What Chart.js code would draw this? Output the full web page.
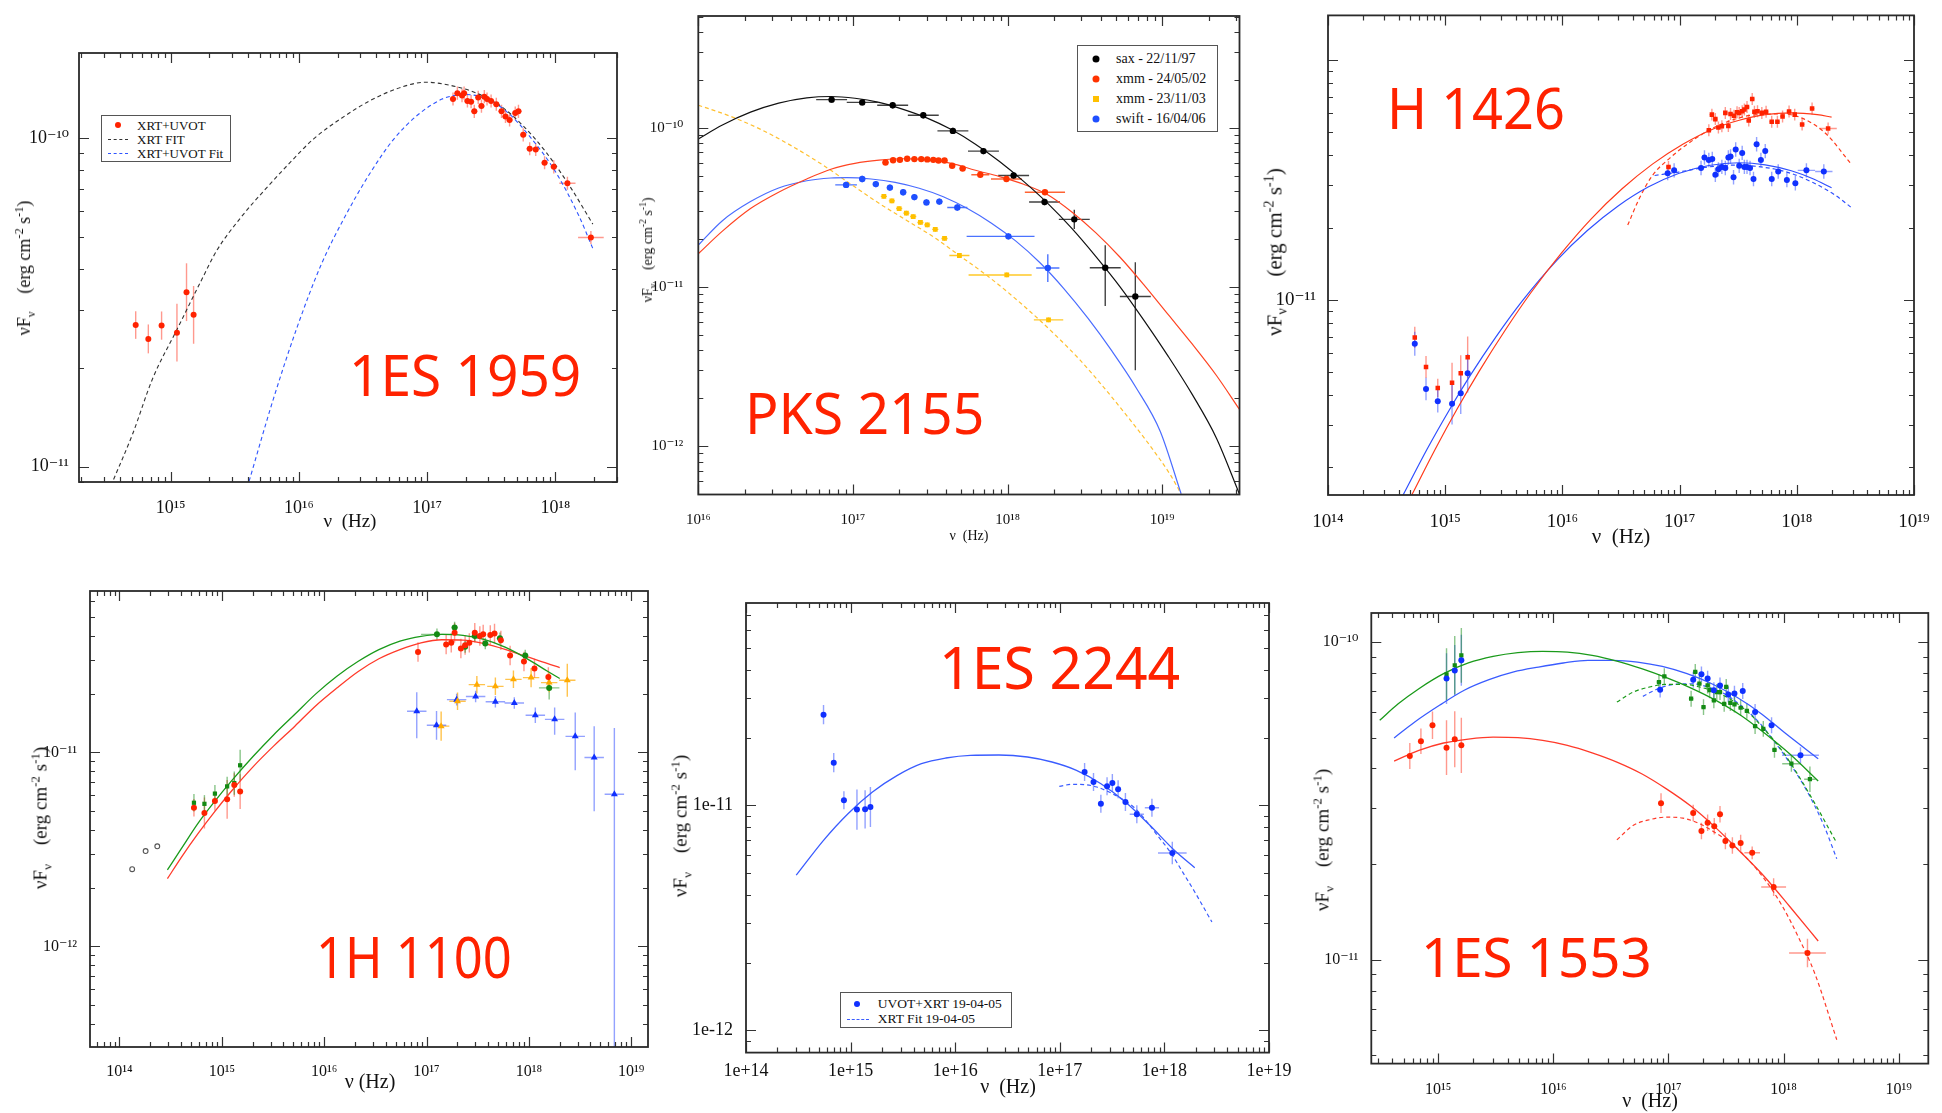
<!DOCTYPE html>
<html><head><meta charset="utf-8"><title>Blazar SEDs</title>
<script src="https://cdn.jsdelivr.net/npm/chart.js"></script>
<style>
html,body{margin:0;padding:0;background:#fff}
body{position:relative;width:1942px;height:1113px;overflow:hidden}
canvas.pane{position:absolute;left:0;top:0}
.ov{position:absolute;white-space:nowrap;font-family:'Liberation Serif','DejaVu Serif',serif;color:#111;line-height:1;z-index:5}
.ctr{transform:translate(-50%,-50%)}
.rot{transform:translate(-50%,-50%) rotate(-90deg)}
.big{position:absolute;white-space:nowrap;font-family:'Noto Sans',sans-serif;color:#ff2200;line-height:1;transform-origin:0 0;z-index:6}
.leg{position:absolute;border:1.5px solid #555;background:#fff;z-index:6;box-sizing:border-box}
.leg .row{position:absolute;left:0;right:0;height:0}
.leg .txt{position:absolute;top:0;transform:translateY(-50%);font-family:'Liberation Serif',serif;color:#111;white-space:nowrap;line-height:1}
.leg .dot{position:absolute;top:0;border-radius:50%;transform:translate(-50%,-50%)}
.leg .sq{position:absolute;top:0;transform:translate(-50%,-50%)}
.leg .dash{position:absolute;top:0;border-top-style:dashed;border-top-width:1.5px;height:0}
sub,sup{font-size:0.68em;line-height:0}
</style></head>
<body>
<canvas id="c1" class="pane" width="1942" height="1113"></canvas>
<canvas id="c2" class="pane" width="1942" height="1113"></canvas>
<canvas id="c3" class="pane" width="1942" height="1113"></canvas>
<canvas id="c4" class="pane" width="1942" height="1113"></canvas>
<canvas id="c5" class="pane" width="1942" height="1113"></canvas>
<canvas id="c6" class="pane" width="1942" height="1113"></canvas>

<!-- axis titles -->
<div class="ov ctr" style="left:350px;top:520px;font-size:19px">ν&nbsp;&nbsp;(Hz)</div>
<div class="ov rot" style="left:24px;top:268px;font-size:18px">νF<sub>ν</sub>&nbsp;&nbsp;&nbsp;&nbsp;(erg cm<sup>-2</sup>&nbsp;s<sup>-1</sup>)</div>
<div class="ov ctr" style="left:969px;top:536px;font-size:14px">ν&nbsp;&nbsp;(Hz)</div>
<div class="ov rot" style="left:648px;top:250px;font-size:14px">νF<sub>ν</sub>&nbsp;&nbsp;&nbsp;&nbsp;(erg cm<sup>-2</sup>&nbsp;s<sup>-1</sup>)</div>
<div class="ov ctr" style="left:1621px;top:536px;font-size:21px">ν&nbsp;&nbsp;(Hz)</div>
<div class="ov rot" style="left:1275px;top:252px;font-size:21px">νF<sub>ν</sub>&nbsp;&nbsp;&nbsp;&nbsp;&nbsp;&nbsp;(erg cm<sup>-2</sup>&nbsp;s<sup>-1</sup>)</div>
<div class="ov ctr" style="left:370px;top:1081px;font-size:20px">ν (Hz)</div>
<div class="ov rot" style="left:40px;top:818px;font-size:19px">νF<sub>ν</sub>&nbsp;&nbsp;&nbsp;&nbsp;(erg cm<sup>-2</sup>&nbsp;s<sup>-1</sup>)</div>
<div class="ov ctr" style="left:1008px;top:1086px;font-size:20px">ν&nbsp;&nbsp;(Hz)</div>
<div class="ov rot" style="left:680px;top:826px;font-size:19px">νF<sub>ν</sub>&nbsp;&nbsp;&nbsp;&nbsp;(erg cm<sup>-2</sup>&nbsp;s<sup>-1</sup>)</div>
<div class="ov ctr" style="left:1650px;top:1100px;font-size:20px">ν&nbsp;&nbsp;(Hz)</div>
<div class="ov rot" style="left:1322px;top:840px;font-size:19px">νF<sub>ν</sub>&nbsp;&nbsp;&nbsp;&nbsp;(erg cm<sup>-2</sup>&nbsp;s<sup>-1</sup>)</div>

<!-- source names -->
<div id="t1" class="big">1ES 1959</div>
<div id="t2" class="big">PKS 2155</div>
<div id="t3" class="big">H 1426</div>
<div id="t4" class="big">1H 1100</div>
<div id="t5" class="big">1ES 2244</div>
<div id="t6" class="big">1ES 1553</div>

<!-- legends -->
<div class="leg" style="left:101px;top:115px;width:130px;height:47px">
  <div class="row" style="top:9px"><span class="dot" style="left:15.5px;width:6px;height:6px;background:#ff2200"></span><span class="txt" style="left:35px;font-size:13px">XRT+UVOT</span></div>
  <div class="row" style="top:23.3px"><span class="dash" style="left:5.5px;width:20px;border-top-color:#333"></span><span class="txt" style="left:35px;font-size:13px">XRT FIT</span></div>
  <div class="row" style="top:37.2px"><span class="dash" style="left:5.5px;width:20px;border-top-color:#2f55ff"></span><span class="txt" style="left:35px;font-size:13px">XRT+UVOT Fit</span></div>
</div>
<div class="leg" style="left:1077px;top:45px;width:141px;height:87px">
  <div class="row" style="top:13.3px"><span class="dot" style="left:18px;width:7px;height:7px;background:#000"></span><span class="txt" style="left:38px;font-size:14px">sax - 22/11/97</span></div>
  <div class="row" style="top:32.7px"><span class="dot" style="left:18px;width:7px;height:7px;background:#ff3300"></span><span class="txt" style="left:38px;font-size:14px">xmm - 24/05/02</span></div>
  <div class="row" style="top:52.7px"><span class="sq" style="left:18px;width:6px;height:6px;background:#ffc000"></span><span class="txt" style="left:38px;font-size:14px">xmm - 23/11/03</span></div>
  <div class="row" style="top:72.7px"><span class="dot" style="left:18px;width:7px;height:7px;background:#1f4fff"></span><span class="txt" style="left:38px;font-size:14px">swift - 16/04/06</span></div>
</div>
<div class="leg" style="left:840px;top:992px;width:172px;height:36px">
  <div class="row" style="top:10.5px"><span class="dot" style="left:16.3px;width:6px;height:6px;background:#1030ff"></span><span class="txt" style="left:36.8px;font-size:13.5px">UVOT+XRT 19-04-05</span></div>
  <div class="row" style="top:25.5px"><span class="dash" style="left:6px;width:22px;border-top-color:#3a5cff"></span><span class="txt" style="left:36.8px;font-size:13.5px">XRT Fit 19-04-05</span></div>
</div>

<script>
// ======================= DATA =======================
// ---- Panel 1 : 1ES 1959
const p1XTicks = [1e15, 1e16, 1e17, 1e18];
const p1XLabels = ['10¹⁵', '10¹⁶', '10¹⁷', '10¹⁸'];
const p1YTicks = [1e-11, 1e-10];
const p1YLabels = ['10⁻¹¹', '10⁻¹⁰'];
const p1OptX = [5.34e14, 6.7e14, 8.5e14, 1.12e15, 1.33e15, 1.51e15];
const p1OptY = [2.70e-11, 2.45e-11, 2.69e-11, 2.56e-11, 3.40e-11, 2.90e-11];
const p1OptEy = [0.042, 0.044, 0.043, 0.088, 0.088, 0.088];
const p1XrtX = [1.59e17,1.72e17,1.87e17,1.94e17,2.06e17,2.20e17,2.33e17,2.50e17,2.65e17,2.79e17,2.93e17,3.15e17,3.46e17,3.80e17,4.08e17,4.39e17,4.86e17,5.15e17,5.61e17,6.30e17,7.02e17,8.23e17,9.71e17,1.24e18,1.89e18];
const p1XrtY = [1.318e-10,1.373e-10,1.35e-10,1.373e-10,1.30e-10,1.294e-10,1.209e-10,1.333e-10,1.254e-10,1.34e-10,1.318e-10,1.30e-10,1.27e-10,1.209e-10,1.166e-10,1.138e-10,1.194e-10,1.209e-10,1.025e-10,9.30e-11,9.25e-11,8.43e-11,8.19e-11,7.30e-11,4.99e-11];
const p1XrtEx = [0.025,0.025,0.025,0.025,0.025,0.025,0.025,0.025,0.025,0.025,0.025,0.025,0.025,0.025,0.025,0.025,0.025,0.025,0.025,0.025,0.025,0.025,0.025,0.063,0.1];
const p1FitX = [3.59e14,5.04e14,7.23e14,1.114e15,1.718e15,2.294e15,3.54e15,5.455e15,8.41e15,1.297e16,2.149e16,3.562e16,6.346e16,9.78e16,1.509e17,2.327e17,3.587e17,5.534e17,8.53e17,1.315e18,1.957e18];
const p1FitY = [9.14e-12,1.254e-11,1.853e-11,2.605e-11,3.664e-11,4.56e-11,5.75e-11,6.99e-11,8.39e-11,9.95e-11,1.152e-10,1.301e-10,1.434e-10,1.483e-10,1.451e-10,1.382e-10,1.270e-10,1.097e-10,9.03e-11,7.08e-11,5.48e-11];
const p1Fit2X = [4.09e15,6.30e15,9.72e15,1.498e16,2.31e16,3.562e16,5.494e16,8.47e16,1.306e17,1.622e17,2.014e17,2.689e17,4.146e17,6.39e17,9.86e17,1.52e18,1.957e18];
const p1Fit2Y = [9.03e-12,1.6e-11,2.67e-11,4.14e-11,5.82e-11,7.80e-11,9.95e-11,1.18e-10,1.317e-10,1.35e-10,1.36e-10,1.333e-10,1.209e-10,1.007e-10,7.99e-11,5.82e-11,4.62e-11];

// ---- Panel 2 : PKS 2155
const p2XTicks = [1e16, 1e17, 1e18, 1e19];
const p2XLabels = ['10¹⁶', '10¹⁷', '10¹⁸', '10¹⁹'];
const p2YTicks = [1e-12, 1e-11, 1e-10];
const p2YLabels = ['10⁻¹²', '10⁻¹¹', '10⁻¹⁰'];
const p2SaxX = [7.28e16,1.148e17,1.807e17,2.85e17,4.43e17,6.98e17,1.094e18,1.734e18,2.70e18,4.28e18,6.70e18];
const p2SaxY = [1.503e-10,1.444e-10,1.387e-10,1.199e-10,9.56e-11,7.14e-11,5.02e-11,3.42e-11,2.66e-11,1.322e-11,8.71e-12];
const p2SaxEy = [0.02,0.02,0.02,0.02,0.02,0.02,0.02,0.02,0.06,[0.24,0.141],[0.463,0.215]];
const p2Xmm02X = [1.624e17,1.818e17,2.013e17,2.242e17,2.496e17,2.765e17,3.024e17,3.307e17,3.575e17,3.91e17,4.38e17,5.12e17,6.66e17,9.83e17,1.744e18];
const p2Xmm02Y = [6.05e-11,6.26e-11,6.29e-11,6.39e-11,6.36e-11,6.36e-11,6.33e-11,6.29e-11,6.23e-11,6.23e-11,5.78e-11,5.55e-11,5.07e-11,4.77e-11,3.94e-11];
const p2Xmm02Ex = [0.02,0.02,0.02,0.02,0.02,0.02,0.02,0.02,0.02,0.02,0.02,0.02,0.058,0.1,0.13];
const p2Xmm03X = [1.585e17,1.786e17,1.99e17,2.216e17,2.453e17,2.731e17,3.024e17,3.407e17,3.91e17,4.88e17,9.88e17,1.84e18];
const p2Xmm03Y = [3.71e-11,3.475e-11,3.11e-11,2.913e-11,2.77e-11,2.543e-11,2.456e-11,2.30e-11,2.018e-11,1.577e-11,1.19e-11,6.21e-12];
const p2Xmm03Ex = [0.02,0.02,0.02,0.02,0.02,0.02,0.02,0.02,0.02,0.065,[0.247,0.161],0.095];
const p2SwiftX = [9.03e16,1.148e17,1.406e17,1.734e17,2.112e17,2.496e17,2.988e17,3.62e17,4.73e17,1.012e18,1.82e18];
const p2SwiftY = [4.38e-11,4.77e-11,4.43e-11,4.21e-11,3.94e-11,3.67e-11,3.40e-11,3.44e-11,3.16e-11,2.08e-11,1.315e-11];
const p2SwiftEx = [0.07,0.02,0.02,0.02,0.02,0.02,0.02,0.02,0.065,[0.27,0.169],0.075];
const p2SwiftEy = [0.02,0.02,0.02,0.02,0.02,0.02,0.02,0.02,0.02,0.02,0.087];
const p2FitSaxX = [1e16,1.432e16,2.176e16,3.308e16,5.027e16,7.197e16,1.03e17,1.475e17,2.112e17,3.024e17,4.33e17,6.198e17,8.873e17,1.27e18,1.818e18,2.603e18,3.727e18,5.337e18,7.64e18,1.094e19,1.566e19,2.242e19,3.153e19];
const p2FitSaxY = [8.51e-11,1.041e-10,1.254e-10,1.43e-10,1.542e-10,1.573e-10,1.534e-10,1.444e-10,1.306e-10,1.151e-10,9.75e-11,7.89e-11,6.14e-11,4.61e-11,3.355e-11,2.335e-11,1.553e-11,1.003e-11,6.15e-12,3.664e-12,2.106e-12,1.123e-12,5.02e-13];
const p2FitXmm02Y = [1.618e-11,2.243e-11,3.11e-11,3.94e-11,4.77e-11,5.49e-11,5.98e-11,6.26e-11,6.39e-11,6.29e-11,5.98e-11,5.41e-11,4.94e-11,4.42e-11,3.80e-11,2.96e-11,2.187e-11,1.538e-11,1.028e-11,6.70e-12,4.37e-12,2.78e-12,1.705e-12];
const p2FitSwiftX = [1e16,1.432e16,2.176e16,3.308e16,5.027e16,7.197e16,9.14e16,1.309e17,1.874e17,2.683e17,3.84e17,5.50e17,7.87e17,1.127e18,1.614e18,2.31e18,3.307e18,4.735e18,6.78e18,9.70e18,1.325e19];
const p2FitSwiftY = [1.834e-11,2.61e-11,3.44e-11,4.19e-11,4.65e-11,4.84e-11,4.87e-11,4.77e-11,4.54e-11,4.17e-11,3.69e-11,3.11e-11,2.518e-11,1.949e-11,1.426e-11,9.78e-12,6.37e-12,3.95e-12,2.33e-12,1.242e-12,5.02e-13];
const p2FitXmm03X = [1e16,1.614e16,2.603e16,4.202e16,6.386e16,9.70e16,1.475e17,2.242e17,3.407e17,4.88e17,6.986e17,1.0e18,1.432e18,2.05e18,2.935e18,4.202e18,6.016e18,8.61e18,1.127e19,1.325e19];
const p2FitXmm03Y = [1.387e-10,1.181e-10,9.65e-11,7.50e-11,5.84e-11,4.42e-11,3.355e-11,2.61e-11,2.028e-11,1.577e-11,1.226e-11,9.30e-12,6.87e-12,4.96e-12,3.48e-12,2.33e-12,1.518e-12,9.65e-13,6.62e-13,5.02e-13];

// ---- Panel 3 : H 1426
const p3XTicks = [1e14, 1e15, 1e16, 1e17, 1e18, 1e19];
const p3XLabels = ['10¹⁴', '10¹⁵', '10¹⁶', '10¹⁷', '10¹⁸', '10¹⁹'];
const p3YTicks = [1e-11];
const p3YLabels = ['10⁻¹¹'];
const p3OptX = [5.50e14, 6.86e14, 8.64e14, 1.144e15, 1.357e15, 1.555e15];
const p3OptRedY = [6.97e-12, 5.25e-12, 4.29e-12, 4.51e-12, 4.94e-12, 5.76e-12];
const p3OptRedEy = [0.044, 0.046, 0.038, 0.083, 0.075, 0.087];
const p3OptBlueY = [6.56e-12, 4.25e-12, 3.78e-12, 3.69e-12, 4.08e-12, 4.94e-12];
const p3OptBlueEy = [0.05, 0.047, 0.047, 0.087, 0.087, 0.08];
const p3RedX = [8.04e16,1.776e17,1.886e17,2.018e17,2.143e17,2.294e17,2.455e17,2.606e17,2.72e17,2.91e17,3.09e17,3.225e17,3.42e17,3.57e17,3.76e17,3.89e17,4.165e17,4.35e17,4.62e17,5.03e17,5.47e17,6.11e17,6.83e17,7.56e17,8.59e17,9.60e17,1.11e18,1.35e18,1.85e18];
const p3RedY = [3.584e-11,5.09e-11,5.92e-11,5.67e-11,5.23e-11,5.30e-11,6.02e-11,5.31e-11,5.96e-11,5.86e-11,6.06e-11,6.02e-11,6.12e-11,6.22e-11,6.37e-11,5.59e-11,6.88e-11,6.08e-11,6.12e-11,6.02e-11,6.08e-11,5.53e-11,5.53e-11,5.82e-11,6.10e-11,5.92e-11,5.39e-11,6.28e-11,5.18e-11];
const p3RedEx = [0.02,0.02,0.02,0.02,0.02,0.02,0.02,0.02,0.02,0.02,0.02,0.02,0.02,0.02,0.02,0.02,0.02,0.02,0.02,0.02,0.02,0.02,0.02,0.02,0.02,0.02,0.02,0.02,0.074];
const p3BlueX = [7.91e16,8.98e16,1.524e17,1.63e17,1.776e17,1.90e17,2.018e17,2.143e17,2.294e17,2.455e17,2.606e17,2.72e17,2.885e17,3.01e17,3.225e17,3.42e17,3.57e17,3.76e17,3.99e17,4.27e17,4.54e17,4.94e17,5.38e17,6.11e17,6.94e17,8.23e17,9.72e17,1.208e18,1.70e18];
const p3BlueY = [3.375e-11,3.467e-11,3.548e-11,3.924e-11,3.83e-11,3.87e-11,3.32e-11,3.50e-11,3.584e-11,3.548e-11,3.924e-11,3.96e-11,3.244e-11,4.236e-11,3.62e-11,4.10e-11,3.584e-11,3.584e-11,3.548e-11,3.19e-11,4.455e-11,3.83e-11,4.17e-11,3.19e-11,3.43e-11,3.16e-11,3.063e-11,3.467e-11,3.43e-11];
const p3BlueEx = [0.02,0.02,0.02,0.02,0.02,0.02,0.02,0.02,0.02,0.02,0.02,0.02,0.02,0.02,0.02,0.02,0.02,0.02,0.02,0.02,0.02,0.02,0.02,0.02,0.02,0.02,0.02,0.074,0.074];
const p3FitRedX = [5.18e14,8.28e14,1.267e15,1.941e15,3.236e15,5.40e15,9.80e15,1.779e16,3.231e16,5.866e16,1.065e17,1.934e17,3.225e17,5.38e17,8.97e17,1.495e18,1.981e18];
const p3FitRedY = [1.534e-12,2.40e-12,3.513e-12,5.02e-12,7.45e-12,1.073e-11,1.565e-11,2.186e-11,2.904e-11,3.681e-11,4.455e-11,5.16e-11,5.61e-11,5.92e-11,6.02e-11,5.92e-11,5.78e-11];
const p3FitBlueX = [4.37e14,6.98e14,1.069e15,1.637e15,2.729e15,4.55e15,9.0e15,1.634e16,2.968e16,5.39e16,9.78e16,1.776e17,3.225e17,5.38e17,8.97e17,1.373e18,1.981e18];
const p3FitBlueY = [1.534e-12,2.376e-12,3.432e-12,4.84e-12,7.04e-12,9.90e-12,1.464e-11,1.945e-11,2.457e-11,2.953e-11,3.365e-11,3.633e-11,3.73e-11,3.657e-11,3.455e-11,3.20e-11,2.933e-11];
const p3XrtBlueX = [6.12e16,9.78e16,1.776e17,2.96e17,4.94e17,8.23e17,1.373e18,2.10e18,2.88e18];
const p3XrtBlueY = [3.30e-11,3.41e-11,3.584e-11,3.645e-11,3.584e-11,3.41e-11,3.084e-11,2.744e-11,2.44e-11];
const p3XrtRedX = [3.61e16,4.54e16,5.866e16,8.25e16,1.16e17,1.776e17,2.72e17,4.535e17,7.56e17,1.158e18,1.774e18,2.88e18];
const p3XrtRedY = [2.05e-11,2.653e-11,3.30e-11,3.90e-11,4.455e-11,5.09e-11,5.59e-11,5.92e-11,5.96e-11,5.67e-11,4.925e-11,3.706e-11];

// ---- Panel 4 : 1H 1100
const p4XTicks = [1e14, 1e15, 1e16, 1e17, 1e18, 1e19];
const p4XLabels = ['10¹⁴', '10¹⁵', '10¹⁶', '10¹⁷', '10¹⁸', '10¹⁹'];
const p4YTicks = [1e-12, 1e-11];
const p4YLabels = ['10⁻¹²', '10⁻¹¹'];
const p4HostX = [1.33e14, 1.80e14, 2.34e14];
const p4HostY = [2.50e-12, 3.10e-12, 3.28e-12];
const p4OptX = [5.34e14, 6.76e14, 8.56e14, 1.127e15, 1.323e15, 1.51e15];
const p4OptGreenY = [5.50e-12, 5.43e-12, 6.13e-12, 6.68e-12, 6.95e-12, 8.58e-12];
const p4OptGreenEy = [0.045, 0.045, 0.045, 0.05, 0.06, 0.08];
const p4OptRedY = [5.18e-12, 4.87e-12, 5.61e-12, 5.73e-12, 6.79e-12, 6.28e-12];
const p4OptRedEy = [0.045, 0.08, 0.05, 0.1, 0.06, 0.09];
const p4GreenX = [1.265e17, 1.882e17, 2.384e17, 2.963e17, 3.753e17, 5.22e17, 9.22e17, 1.58e18];
const p4GreenY = [4.06e-11, 4.40e-11, 3.50e-11, 3.98e-11, 3.64e-11, 3.87e-11, 3.16e-11, 2.15e-11];
const p4GreenEx = [0.155, 0.03, 0.03, 0.03, 0.03, 0.03, 0.03, 0.1];
const p4GreenEy = [0.03, 0.03, 0.03, 0.03, 0.03, 0.03, 0.03, 0.06];
const p4RedX = [8.26e16,1.556e17,1.745e17,1.882e17,2.168e17,2.384e17,2.62e17,2.963e17,3.32e17,3.58e17,4.20e17,4.62e17,5.33e17,6.56e17,8.96e17,1.135e18,1.551e18];
const p4RedY = [3.29e-11,3.60e-11,3.67e-11,4.14e-11,3.43e-11,3.57e-11,3.67e-11,4.14e-11,3.98e-11,4.06e-11,4.03e-11,4.10e-11,3.78e-11,3.16e-11,2.94e-11,2.71e-11,2.45e-11];
const p4YelX = [1.39e17, 2.01e17, 3.105e17, 4.71e17, 7.07e17, 1.052e18, 1.58e18, 2.375e18];
const p4YelY = [1.365e-11, 1.834e-11, 2.234e-11, 2.19e-11, 2.38e-11, 2.43e-11, 2.29e-11, 2.355e-11];
const p4YelEy = [0.075, 0.045, 0.045, 0.045, 0.045, 0.05, 0.05, 0.085];
const p4BlueX = [8.03e16,1.253e17,1.97e17,3.02e17,4.71e17,7.21e17,1.157e18,1.787e18,2.84e18,4.35e18,6.85e18];
const p4BlueY = [1.63e-11,1.38e-11,1.87e-11,1.94e-11,1.825e-11,1.796e-11,1.553e-11,1.48e-11,1.21e-11,9.41e-12,6.08e-12];
const p4BlueEy = [[0.139,0.098],[0.075,0.074],0.03,0.03,0.03,0.03,0.04,[0.079,0.061],[0.175,0.123],[0.277,0.161],[3,0.342]];
const p4FitX = [2.94e14,4.02e14,5.87e14,8.56e14,1.25e15,2.006e15,3.22e15,5.17e15,8.29e15,1.331e16,2.136e16,3.426e16,5.50e16,8.83e16,1.417e17,2.273e17,3.648e17,5.855e17,9.40e17,1.508e18,2.003e18];
const p4FitGreenY = [2.48e-12,3.19e-12,4.32e-12,5.61e-12,7.15e-12,9.49e-12,1.234e-11,1.572e-11,2.003e-11,2.47e-11,2.94e-11,3.387e-11,3.748e-11,3.965e-11,4.06e-11,4.01e-11,3.825e-11,3.485e-11,3.06e-11,2.626e-11,2.403e-11];
const p4FitRedY = [2.234e-12,2.88e-12,3.824e-12,4.97e-12,6.34e-12,8.40e-12,1.08e-11,1.365e-11,1.74e-11,2.146e-11,2.605e-11,3.037e-11,3.387e-11,3.67e-11,3.807e-11,3.792e-11,3.64e-11,3.40e-11,3.124e-11,2.88e-11,2.734e-11];

// ---- Panel 5 : 1ES 2244
const p5XTicks = [1e14, 1e15, 1e16, 1e17, 1e18, 1e19];
const p5XLabels = ['1e+14', '1e+15', '1e+16', '1e+17', '1e+18', '1e+19'];
const p5YTicks = [1e-12, 1e-11];
const p5YLabels = ['1e-12', '1e-11'];
const p5X = [5.51e14,6.90e14,8.63e14,1.150e15,1.376e15,1.547e15,1.726e17,2.10e17,2.47e17,2.83e17,3.18e17,3.61e17,4.24e17,5.45e17,7.60e17,1.19e18];
const p5Y = [2.53e-11,1.547e-11,1.052e-11,9.57e-12,9.60e-12,9.83e-12,1.406e-11,1.27e-11,1.017e-11,1.215e-11,1.257e-11,1.178e-11,1.035e-11,9.12e-12,9.76e-12,6.14e-12];
const p5Ey = [0.043,0.043,0.04,0.089,0.085,0.089,0.04,0.04,0.04,0.04,0.04,0.04,0.04,0.04,0.04,0.05];
const p5Ex = [0,0,0,0,0,0,0.02,0.02,0.02,0.02,0.02,0.02,0.02,0.068,0.068,0.137];
const p5FitX = [3.02e14,5.51e14,9.44e14,1.618e15,2.774e15,4.755e15,8.15e15,1.397e16,2.619e16,4.91e16,8.42e16,1.443e17,2.473e17,4.238e17,7.265e17,1.245e18,1.951e18];
const p5FitY = [4.89e-12,6.99e-12,9.18e-12,1.146e-11,1.355e-11,1.531e-11,1.623e-11,1.668e-11,1.674e-11,1.64e-11,1.558e-11,1.431e-11,1.248e-11,1.035e-11,8.15e-12,6.31e-12,5.28e-12];
const p5XrtX = [9.89e16,1.319e17,1.726e17,2.26e17,2.958e17,3.873e17,5.07e17,6.64e17,8.70e17,1.138e18,1.49e18,1.951e18,2.845e18];
const p5XrtY = [1.215e-11,1.24e-11,1.236e-11,1.206e-11,1.146e-11,1.071e-11,9.83e-12,8.58e-12,7.28e-12,6.20e-12,5.06e-12,4.12e-12,3.03e-12];

// ---- Panel 6 : 1ES 1553
const p6XTicks = [1e15, 1e16, 1e17, 1e18, 1e19];
const p6XLabels = ['10¹⁵', '10¹⁶', '10¹⁷', '10¹⁸', '10¹⁹'];
const p6YTicks = [1e-11, 1e-10];
const p6YLabels = ['10⁻¹¹', '10⁻¹⁰'];
const p6OptRedX = [5.66e14, 7.07e14, 8.91e14, 1.18e15, 1.391e15, 1.587e15];
const p6OptRedY = [4.38e-11, 4.87e-11, 5.47e-11, 4.65e-11, 4.94e-11, 4.73e-11];
const p6OptRedEy = [0.041, 0.04, 0.043, 0.086, 0.088, 0.087];
const p6OptX = [1.18e15, 1.391e15, 1.587e15];
const p6OptGreenY = [7.91e-11, 8.45e-11, 9.08e-11];
const p6OptGreenEy = [0.082, 0.092, 0.086];
const p6OptBlueY = [7.67e-11, 8.14e-11, 8.76e-11];
const p6RedX = [8.62e16,1.641e17,1.935e17,2.19e17,2.50e17,2.805e17,3.124e17,3.594e17,4.24e17,5.34e17,8.20e17,1.614e18];
const p6RedY = [3.11e-11,2.895e-11,2.54e-11,2.70e-11,2.63e-11,2.87e-11,2.363e-11,2.29e-11,2.33e-11,2.17e-11,1.693e-11,1.05e-11];
const p6RedEx = [0.02,0.02,0.02,0.02,0.02,0.02,0.02,0.02,0.02,0.068,0.108,0.16];
const p6RedEy = [0.031,0.026,0.026,0.026,0.026,0.026,0.026,0.026,0.026,0.02,0.028,0.045];
const p6GreenX = [8.27e16,9.21e16,1.574e17,1.71e17,1.857e17,2.017e17,2.19e17,2.28e17,2.48e17,2.63e17,2.805e17,3.05e17,3.176e17,3.45e17,3.745e17,4.24e17,4.80e17,5.66e17,6.67e17,8.34e17,1.17e18,1.695e18];
const p6GreenY = [7.48e-11,7.80e-11,6.63e-11,8.05e-11,7.39e-11,6.24e-11,7.30e-11,7.05e-11,6.55e-11,6.96e-11,6.96e-11,6.39e-11,7.22e-11,6.43e-11,6.36e-11,6.21e-11,6.07e-11,5.44e-11,5.33e-11,4.58e-11,4.14e-11,3.70e-11];
const p6GreenEx = [0.02,0.02,0.02,0.02,0.02,0.02,0.02,0.02,0.02,0.02,0.02,0.02,0.02,0.02,0.02,0.02,0.02,0.02,0.02,0.02,0.08,0.05];
const p6GreenEy = [0.025,0.025,0.025,0.025,0.025,0.025,0.025,0.025,0.025,0.025,0.025,0.025,0.025,0.025,0.025,0.025,0.025,0.025,0.025,0.025,0.025,0.04];
const p6BlueX = [8.47e16,1.641e17,1.935e17,2.19e17,2.48e17,2.805e17,3.31e17,3.745e17,4.42e17,5.66e17,7.87e17,1.403e18];
const p6BlueY = [7.08e-11,7.61e-11,7.91e-11,7.67e-11,7.05e-11,7.30e-11,6.84e-11,6.88e-11,7.01e-11,6.02e-11,5.47e-11,4.40e-11];
const p6BlueEx = [0.02,0.02,0.02,0.02,0.02,0.02,0.02,0.02,0.02,0.02,0.02,0.16];
const p6FitGreenX = [3.10e14,4.49e14,6.79e14,1.113e15,1.827e15,2.998e15,4.92e15,8.07e15,1.324e16,2.173e16,3.565e16,5.85e16,9.60e16,1.574e17,2.584e17,4.24e17,6.955e17,1.141e18,2.0e18];
const p6FitGreenY = [5.67e-11,6.39e-11,7.13e-11,7.95e-11,8.59e-11,9.01e-11,9.26e-11,9.35e-11,9.30e-11,9.08e-11,8.71e-11,8.24e-11,7.72e-11,7.16e-11,6.55e-11,5.88e-11,5.14e-11,4.43e-11,3.65e-11];
const p6FitBlueX = [4.135e14,6.25e14,1.025e15,1.682e15,2.76e15,4.53e15,7.43e15,1.219e16,2.0e16,3.282e16,5.385e16,8.84e16,1.45e17,2.379e17,3.903e17,6.40e17,1.051e18,2.0e18];
const p6FitBlueY = [4.99e-11,5.60e-11,6.32e-11,7.05e-11,7.61e-11,8.05e-11,8.34e-11,8.59e-11,8.76e-11,8.76e-11,8.65e-11,8.38e-11,7.95e-11,7.39e-11,6.71e-11,5.95e-11,5.14e-11,4.29e-11];
const p6FitRedX = [4.135e14,6.79e14,1.113e15,1.827e15,2.998e15,4.92e15,8.07e15,1.324e16,2.173e16,3.565e16,5.85e16,9.60e16,1.574e17,2.584e17,4.24e17,6.955e17,1.141e18,2.0e18];
const p6FitRedY = [4.22e-11,4.56e-11,4.81e-11,4.95e-11,5.02e-11,5.0e-11,4.90e-11,4.73e-11,4.48e-11,4.19e-11,3.85e-11,3.45e-11,3.04e-11,2.60e-11,2.18e-11,1.812e-11,1.465e-11,1.145e-11];
const p6XrtX = [3.565e16,4.96e16,6.90e16,9.60e16,1.335e17,1.857e17,2.584e17,3.594e17,5.0e17,6.955e17,9.67e17,1.346e18,1.873e18,2.90e18];
const p6XrtRedY = [2.386e-11,2.648e-11,2.76e-11,2.81e-11,2.79e-11,2.68e-11,2.504e-11,2.307e-11,2.055e-11,1.778e-11,1.483e-11,1.178e-11,9.03e-12,5.60e-12];
const p6XrtGreenY = [6.47e-11,6.96e-11,7.22e-11,7.36e-11,7.36e-11,7.22e-11,6.96e-11,6.55e-11,5.98e-11,5.27e-11,4.56e-11,3.80e-11,3.10e-11,2.33e-11];
const p6XrtBlueX = [5.995e16,8.14e16,1.132e17,1.574e17,2.19e17,3.047e17,4.24e17,5.90e17,8.20e17,1.141e18,1.587e18,2.208e18,2.90e18];
const p6XrtBlueY = [6.745e-11,7.13e-11,7.36e-11,7.39e-11,7.22e-11,6.88e-11,6.32e-11,5.67e-11,4.90e-11,4.14e-11,3.41e-11,2.68e-11,2.08e-11];

// ======================= HELPERS =======================
const W = 1942, H = 1113, YW = 70, XH = 40;
function pts(xs, ys) { return xs.map((x, i) => ({ x: x, y: ys[i] })); }
function marks(xs, ys, o) {
  return {
    data: pts(xs, ys), showLine: false, order: 0,
    pointStyle: o.style || 'circle', pointRadius: o.r || 3, pointHoverRadius: o.r || 3,
    backgroundColor: o.hollow ? 'rgba(0,0,0,0)' : o.color, borderColor: o.color,
    borderWidth: o.hollow ? 1.1 : 0,
    errX: o.ex, errY: o.ey, errColor: o.ec || o.color
  };
}
function curve(xs, ys, color, dash, w) {
  return {
    data: pts(xs, ys), showLine: true, order: 1, pointRadius: 0, pointHoverRadius: 0,
    borderColor: color, borderWidth: w || 1.3, borderDash: dash ? [4, 3] : [],
    cubicInterpolationMode: 'monotone', fill: false
  };
}
function pick(e, i) { return Array.isArray(e) ? e[i] : e; }

const sedPlugin = {
  id: 'sedDeco',
  beforeDatasetsDraw(chart) {
    const ctx = chart.ctx, a = chart.chartArea, xs = chart.scales.x, ys = chart.scales.y;
    ctx.save();
    ctx.beginPath(); ctx.rect(a.left, a.top, a.right - a.left, a.bottom - a.top); ctx.clip();
    chart.data.datasets.forEach(ds => {
      if (ds.errX === undefined && ds.errY === undefined) return;
      ctx.strokeStyle = ds.errColor; ctx.lineWidth = 1.4;
      ds.data.forEach((p, i) => {
        const px = xs.getPixelForValue(p.x), py = ys.getPixelForValue(p.y);
        const ex = pick(ds.errX, i), ey = pick(ds.errY, i);
        ctx.beginPath();
        if (ex) {
          const e = Array.isArray(ex) ? ex : [ex, ex];
          ctx.moveTo(xs.getPixelForValue(p.x / Math.pow(10, e[0])), py);
          ctx.lineTo(xs.getPixelForValue(p.x * Math.pow(10, e[1])), py);
        }
        if (ey) {
          const e = Array.isArray(ey) ? ey : [ey, ey];
          ctx.moveTo(px, ys.getPixelForValue(p.y / Math.pow(10, e[0])));
          ctx.lineTo(px, ys.getPixelForValue(p.y * Math.pow(10, e[1])));
        }
        ctx.stroke();
      });
    });
    ctx.restore();
  },
  afterDraw(chart) {
    const ctx = chart.ctx, a = chart.chartArea, xs = chart.scales.x, ys = chart.scales.y;
    ctx.save();
    ctx.strokeStyle = '#333'; ctx.lineWidth = 1.2;
    const MAJ = 10, MIN = 5;
    ctx.beginPath();
    for (let e = Math.floor(Math.log10(xs.min)); e <= Math.ceil(Math.log10(xs.max)); e++) {
      for (let m = 1; m <= 9; m++) {
        const v = m * Math.pow(10, e);
        if (v < xs.min * 0.999 || v > xs.max * 1.001) continue;
        const px = Math.round(xs.getPixelForValue(v)) + 0.5, L = m === 1 ? MAJ : MIN;
        ctx.moveTo(px, a.bottom); ctx.lineTo(px, a.bottom - L);
        ctx.moveTo(px, a.top); ctx.lineTo(px, a.top + L);
      }
    }
    for (let e = Math.floor(Math.log10(ys.min)); e <= Math.ceil(Math.log10(ys.max)); e++) {
      for (let m = 1; m <= 9; m++) {
        const v = m * Math.pow(10, e);
        if (v < ys.min * 0.999 || v > ys.max * 1.001) continue;
        const py = Math.round(ys.getPixelForValue(v)) + 0.5, L = m === 1 ? MAJ : MIN;
        ctx.moveTo(a.left, py); ctx.lineTo(a.left + L, py);
        ctx.moveTo(a.right, py); ctx.lineTo(a.right - L, py);
      }
    }
    ctx.stroke();
    ctx.strokeStyle = '#2a2a2a'; ctx.lineWidth = 1.8;
    ctx.strokeRect(a.left, a.top, a.right - a.left, a.bottom - a.top);
    ctx.restore();
  }
};

function makePanel(id, L, datasets) {
  return new Chart(document.getElementById(id), {
    type: 'scatter',
    data: { datasets: datasets },
    options: {
      responsive: false, animation: false, devicePixelRatio: 1, events: [],
      layout: { padding: { left: L.l - YW, top: L.t, right: W - L.r, bottom: H - L.b - XH } },
      plugins: { legend: { display: false }, tooltip: { enabled: false } },
      scales: {
        x: {
          type: 'logarithmic', min: L.xmin, max: L.xmax, bounds: 'data',
          grid: { display: false }, border: { display: false },
          afterBuildTicks: s => { s.ticks = L.xt.map(v => ({ value: v })); },
          afterFit: s => { s.height = XH; },
          ticks: { autoSkip: false, maxRotation: 0, minRotation: 0, padding: L.xp, color: '#111',
                   font: { family: "'Liberation Serif', 'DejaVu Serif', serif", size: L.fs },
                   callback: (v, i) => L.xl[i] }
        },
        y: {
          type: 'logarithmic', min: L.ymin, max: L.ymax, bounds: 'data',
          grid: { display: false }, border: { display: false },
          afterBuildTicks: s => { s.ticks = L.yt.map(v => ({ value: v })); },
          afterFit: s => { s.width = YW; },
          ticks: { autoSkip: false, padding: L.yp, color: '#111',
                   font: { family: "'Liberation Serif', 'DejaVu Serif', serif", size: L.fs },
                   callback: (v, i) => L.yl[i] }
        }
      }
    },
    plugins: [sedPlugin]
  });
}

const RED = '#ff2200', REDE = 'rgba(255,70,50,0.55)';
const BLUE = '#1030ff', BLUEE = 'rgba(40,70,255,0.5)';
const GREEN = '#138a13', GREENE = 'rgba(20,140,20,0.5)';

// Panel 1
makePanel('c1', { l: 79, t: 53, r: 617, b: 482, xmin: 1.93e14, xmax: 3.02e18, ymin: 8.98e-12, ymax: 1.82e-10,
  xt: p1XTicks, xl: p1XLabels, yt: p1YTicks, yl: p1YLabels, fs: 18, xp: 7, yp: 2 }, [
  marks(p1OptX, p1OptY, { color: RED, ey: p1OptEy, ec: REDE }),
  marks(p1XrtX, p1XrtY, { color: RED, ex: p1XrtEx, ey: 0.02, ec: REDE }),
  curve(p1FitX, p1FitY, '#333', true, 1.1),
  curve(p1Fit2X, p1Fit2Y, '#2f55ff', true, 1.1)
]);

// Panel 2
makePanel('c2', { l: 698.3, t: 8, r: 1239.5, b: 494.5, xmin: 1e16, xmax: 3.16e19, ymin: 4.97e-13, ymax: 5.04e-10,
  xt: p2XTicks, xl: p2XLabels, yt: p2YTicks, yl: p2YLabels, fs: 15, xp: 9, yp: 7 }, [
  marks(p2SaxX, p2SaxY, { color: '#000', ex: 0.1, ey: p2SaxEy, ec: 'rgba(0,0,0,0.75)', r: 3.2 }),
  marks(p2Xmm02X, p2Xmm02Y, { color: '#ff3300', ex: p2Xmm02Ex, ey: 0.015, ec: 'rgba(255,60,0,0.8)', r: 3.2 }),
  marks(p2Xmm03X, p2Xmm03Y, { color: '#ffc000', style: 'rect', r: 3.4, ex: p2Xmm03Ex, ey: 0.015, ec: 'rgba(255,190,0,0.85)' }),
  marks(p2SwiftX, p2SwiftY, { color: '#1f4fff', ex: p2SwiftEx, ey: p2SwiftEy, ec: 'rgba(30,80,255,0.8)', r: 3.2 }),
  curve(p2FitSaxX, p2FitSaxY, '#111', false, 1.2),
  curve(p2FitSaxX, p2FitXmm02Y, '#ff4422', false, 1.2),
  curve(p2FitSwiftX, p2FitSwiftY, '#4a6cff', false, 1.2),
  curve(p2FitXmm03X, p2FitXmm03Y, '#ffc030', true, 1.2)
]);

// Panel 3
makePanel('c3', { l: 1328, t: 7, r: 1914, b: 495, xmin: 1e14, xmax: 1e19, ymin: 1.535e-12, ymax: 1.535e-10,
  xt: p3XTicks, xl: p3XLabels, yt: p3YTicks, yl: p3YLabels, fs: 19, xp: 8, yp: 4 }, [
  marks(p3OptX, p3OptRedY, { color: RED, style: 'rect', r: 3.2, ey: p3OptRedEy, ec: REDE }),
  marks(p3OptX, p3OptBlueY, { color: BLUE, ey: p3OptBlueEy, ec: BLUEE }),
  marks(p3RedX, p3RedY, { color: RED, style: 'rect', r: 3.2, ex: p3RedEx, ey: 0.025, ec: REDE }),
  marks(p3BlueX, p3BlueY, { color: BLUE, ex: p3BlueEx, ey: 0.03, ec: BLUEE }),
  curve(p3FitRedX, p3FitRedY, '#ff3a1a', false, 1.2),
  curve(p3FitBlueX, p3FitBlueY, '#3050ff', false, 1.2),
  curve(p3XrtBlueX, p3XrtBlueY, '#3050ff', true, 1.2),
  curve(p3XrtRedX, p3XrtRedY, '#ff3a1a', true, 1.2)
]);

// Panel 4
makePanel('c4', { l: 90, t: 591, r: 648, b: 1047, xmin: 5.15e13, xmax: 1.46e19, ymin: 3.03e-13, ymax: 6.79e-11,
  xt: p4XTicks, xl: p4XLabels, yt: p4YTicks, yl: p4YLabels, fs: 16, xp: 7, yp: 5 }, [
  marks(p4HostX, p4HostY, { color: '#555', hollow: true, r: 2.4 }),
  marks(p4OptX, p4OptRedY, { color: RED, ey: p4OptRedEy, ec: REDE }),
  marks(p4OptX, p4OptGreenY, { color: GREEN, style: 'rect', r: 3, ey: p4OptGreenEy, ec: GREENE }),
  marks(p4RedX, p4RedY, { color: RED, ex: 0.02, ey: 0.05, ec: REDE }),
  marks(p4GreenX, p4GreenY, { color: GREEN, ex: p4GreenEx, ey: p4GreenEy, ec: GREENE }),
  marks(p4YelX, p4YelY, { color: '#ffaa00', style: 'triangle', r: 4, ex: 0.08, ey: p4YelEy, ec: 'rgba(255,170,0,0.7)' }),
  marks(p4BlueX, p4BlueY, { color: BLUE, style: 'triangle', r: 4, ex: 0.095, ey: p4BlueEy, ec: BLUEE }),
  curve(p4FitX, p4FitGreenY, '#1a9a1a', false, 1.3),
  curve(p4FitX, p4FitRedY, '#ff3a2a', false, 1.3)
]);

// Panel 5
makePanel('c5', { l: 746, t: 603, r: 1269, b: 1052.6, xmin: 1e14, xmax: 1e19, ymin: 7.96e-13, ymax: 7.93e-11,
  xt: p5XTicks, xl: p5XLabels, yt: p5YTicks, yl: p5YLabels, fs: 18, xp: 0, yp: 5 }, [
  marks(p5X, p5Y, { color: BLUE, ex: p5Ex, ey: p5Ey, ec: BLUEE }),
  curve(p5FitX, p5FitY, '#3a5cff', false, 1.3),
  curve(p5XrtX, p5XrtY, '#3a5cff', true, 1.2)
]);

// Panel 6
makePanel('c6', { l: 1371.3, t: 613, r: 1928.3, b: 1063.6, xmin: 2.62e14, xmax: 1.81e19, ymin: 4.71e-12, ymax: 1.234e-10,
  xt: p6XTicks, xl: p6XLabels, yt: p6YTicks, yl: p6YLabels, fs: 16, xp: 9, yp: 5 }, [
  marks(p6OptRedX, p6OptRedY, { color: RED, ey: p6OptRedEy, ec: REDE }),
  marks(p6OptX, p6OptBlueY, { color: BLUE, ey: 0.08, ec: BLUEE }),
  marks(p6OptX, p6OptGreenY, { color: GREEN, style: 'rect', r: 3, ey: p6OptGreenEy, ec: GREENE }),
  marks(p6RedX, p6RedY, { color: RED, ex: p6RedEx, ey: p6RedEy, ec: REDE }),
  marks(p6BlueX, p6BlueY, { color: BLUE, ex: p6BlueEx, ey: 0.025, ec: BLUEE }),
  marks(p6GreenX, p6GreenY, { color: GREEN, style: 'rect', r: 3, ex: p6GreenEx, ey: p6GreenEy, ec: GREENE }),
  curve(p6FitGreenX, p6FitGreenY, '#1a9a1a', false, 1.3),
  curve(p6FitBlueX, p6FitBlueY, '#3a5cff', false, 1.3),
  curve(p6FitRedX, p6FitRedY, '#ff3a2a', false, 1.3),
  curve(p6XrtX, p6XrtRedY, '#ff3a2a', true, 1.2),
  curve(p6XrtX, p6XrtGreenY, '#1a9a1a', true, 1.2),
  curve(p6XrtBlueX, p6XrtBlueY, '#3a5cff', true, 1.2)
]);

// ======================= BIG SOURCE NAMES (layout) =======================
function placeBig(id, x0, x1, yTop, yBot) {
  const el = document.getElementById(id);
  const fam = "'Noto Sans', sans-serif";
  const c = document.createElement('canvas').getContext('2d');
  c.font = '100px ' + fam;
  const capH = c.measureText('E').actualBoundingBoxAscent;
  const size = (yBot - yTop) / capH * 100;
  c.font = size + 'px ' + fam;
  const m = c.measureText(el.textContent);
  const ink = m.actualBoundingBoxLeft + m.actualBoundingBoxRight;
  const sx = (x1 - x0) / ink;
  const fa = m.fontBoundingBoxAscent, fd = m.fontBoundingBoxDescent;
  const baseOff = (size - (fa + fd)) / 2 + fa;
  el.style.fontSize = size + 'px';
  el.style.top = (yBot - baseOff) + 'px';
  el.style.left = (x0 + m.actualBoundingBoxLeft * sx) + 'px';
  el.style.transform = 'scaleX(' + sx + ')';
}
placeBig('t1', 354, 579, 355, 396);
placeBig('t2', 750, 982, 393, 434);
placeBig('t3', 1392, 1563, 88.5, 129);
placeBig('t4', 320, 509, 937, 978);
placeBig('t5', 944, 1180, 648, 690);
placeBig('t6', 1425, 1649, 937, 977);
</script>
</body></html>
